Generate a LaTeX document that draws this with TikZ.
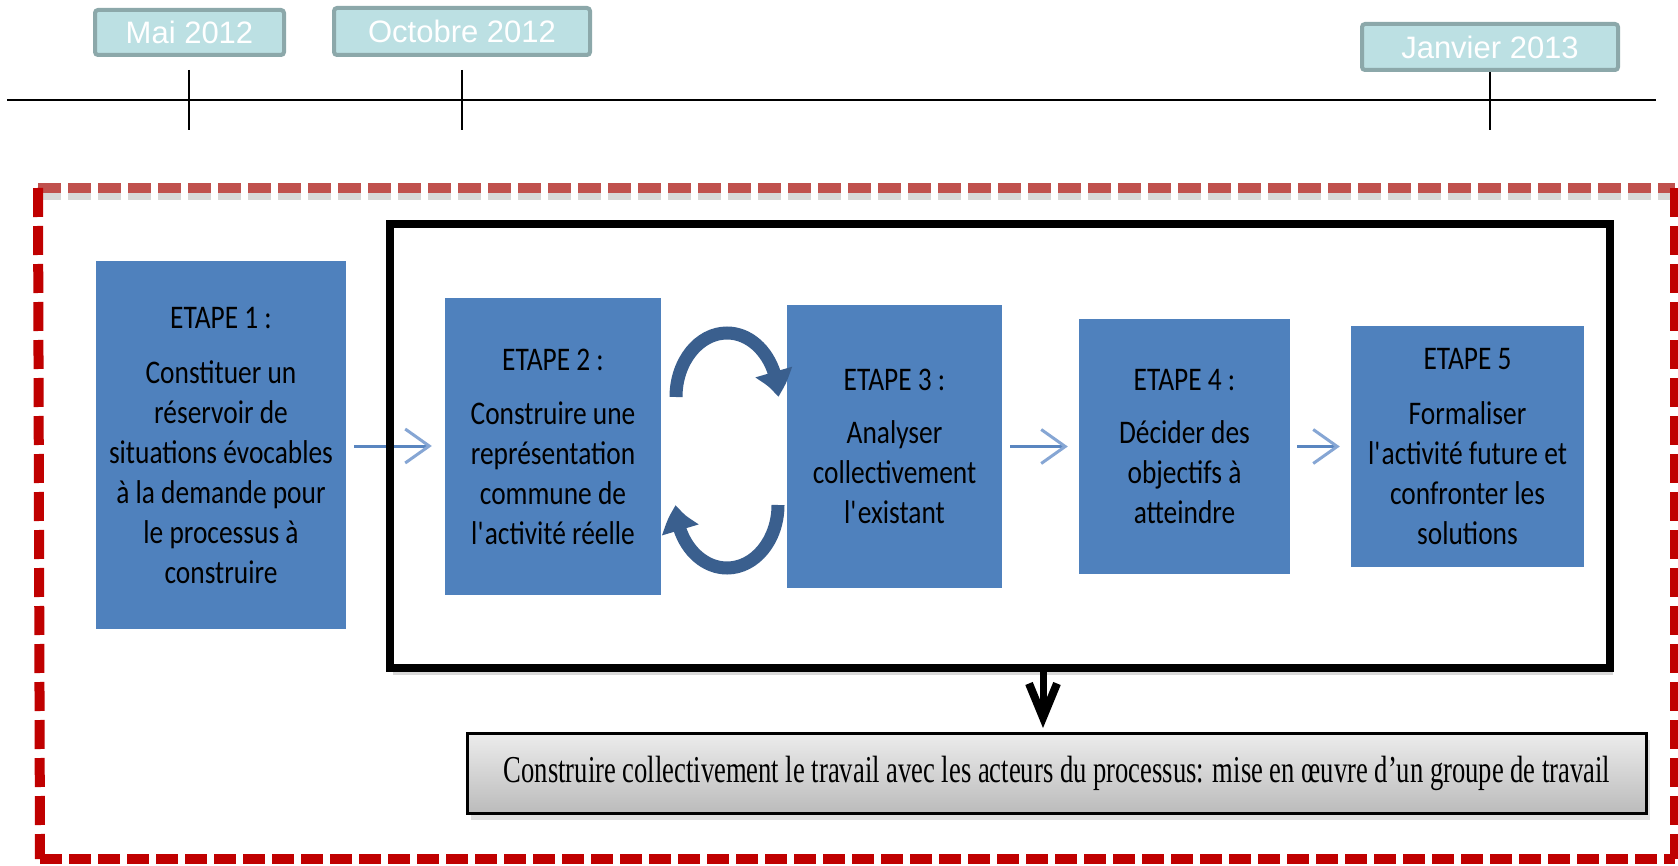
\documentclass[tikz,border=0pt]{standalone}
\usepackage{fontspec}
\setmainfont{Liberation Sans}
\newfontfamily\stepfont[FakeStretch=0.83]{Carlito}
\newfontfamily\serfont[FakeStretch=0.70]{Liberation Serif}
\usetikzlibrary{arrows.meta,bending,shadows}
\definecolor{stepblue}{HTML}{4F81BD}
\definecolor{datefill}{HTML}{BCE0E3}
\definecolor{dateborder}{HTML}{8CA8AA}
\definecolor{redframe}{HTML}{C00000}
\definecolor{redtop}{HTML}{C0504D}
\definecolor{arrowblue}{HTML}{5A86C0}
\definecolor{arrowlight}{HTML}{86A6D4}
\definecolor{circblue}{HTML}{3A5F8E}
\definecolor{graytop}{HTML}{ECECEC}
\definecolor{graybot}{HTML}{BBBBBB}
\tikzset{
  datebox/.style={draw=dateborder, fill=datefill, line width=4pt, rounded corners=3pt,
    text=white, font=\fontsize{31}{36}\selectfont, inner sep=0pt},
  stepbox/.style={fill=stepblue, inner sep=0pt, align=center,
    font=\stepfont\fontsize{33}{40}\selectfont, text=black},
  thinarrow/.style={line width=3pt, draw=arrowblue,
    -{Straight Barb[length=24pt,width=34pt,line width=3pt,color=arrowlight]}},
  circarrow/.style={line width=13pt, draw=circblue, -{Triangle[length=26pt,width=36pt,bend]}},
  tick/.style={line width=2pt, draw=black},
  redside/.style={line width=10pt, draw=redframe, dash pattern=on 29pt off 9pt},
  redbottom/.style={line width=10pt, draw=redframe, dash pattern=on 22pt off 7pt},
  redtopline/.style={line width=10pt, draw=redtop, dash pattern=on 23pt off 7pt},
  downarrow/.style={line width=7pt, draw=black, -{Straight Barb[length=34pt,width=28pt,line width=8pt]}},
  graybox/.style={draw=black, line width=3pt, top color=graytop, bottom color=graybot,
    inner sep=0pt, drop shadow={shadow xshift=3pt, shadow yshift=-6pt, opacity=0.25}}
}
\begin{document}
\begin{tikzpicture}[x=1pt,y=-1pt]
\useasboundingbox (0,0) rectangle (1678,866);
\fill[white] (0,0) rectangle (1678,866);

% timeline
\coordinate (tl0) at (7,100);
\coordinate (tl1) at (1656,100);
\draw[line width=2pt] (tl0) -- (tl1);
\coordinate (m1) at (189,70);  \coordinate (m2) at (189,130);
\coordinate (o1) at (462,70);  \coordinate (o2) at (462,130);
\coordinate (j1) at (1490,72); \coordinate (j2) at (1490,130);
\draw[tick] (m1) -- (m2);
\draw[tick] (o1) -- (o2);
\draw[tick] (j1) -- (j2);
\node[datebox, minimum width=189pt, minimum height=45pt] (dmai) at (189.5,32.5) {Mai 2012};
\node[datebox, minimum width=256pt, minimum height=47pt] (doct) at (462,31.5) {Octobre 2012};
\node[datebox, minimum width=256pt, minimum height=46pt] (djan) at (1490,47) {Janvier 2013};

% red dashed frame
\coordinate (fa) at (38,188);
\coordinate (fb) at (1675,188);
\coordinate (fc) at (1675,859);
\coordinate (fd) at (40,859);
\draw[redtopline, draw=gray, opacity=0.3, line width=8pt] ([yshift=-8pt]fa) -- ([yshift=-8pt]fb);
\draw[redtopline] (fa) -- (fb);
\draw[redside] (fa) -- (fd);
\draw[redside] (fb) -- (fc);
\draw[redbottom] (fd) -- (fc);

% black frame (fill + shadow)
\node[fill=white, minimum width=1220pt, minimum height=444pt, inner sep=0pt,
  drop shadow={shadow xshift=3pt, shadow yshift=-7pt, opacity=0.3}] (bb) at (1000,446) {};

% steps
\node[stepbox, minimum width=250pt, minimum height=368pt] (e1) at (221,445)
  {ETAPE 1 :\\[15pt]Constituer un\\réservoir de\\situations évocables\\à la demande pour\\le processus à\\construire};
\node[stepbox, minimum width=216pt, minimum height=297pt] (e2) at (553,446.5)
  {ETAPE 2 :\\[14pt]Construire une\\représentation\\commune de\\l\textquotesingle activité réelle};
\node[stepbox, minimum width=215pt, minimum height=283pt] (e3) at (894.5,446.5)
  {ETAPE 3 :\\[13pt]Analyser\\collectivement\\l\textquotesingle existant};
\node[stepbox, minimum width=211pt, minimum height=255pt] (e4) at (1184.5,446.5)
  {ETAPE 4 :\\[13pt]Décider des\\objectifs à\\atteindre};
\node[stepbox, minimum width=233pt, minimum height=241pt] (e5) at (1467.5,446.5)
  {ETAPE 5\\[15pt]Formaliser\\l\textquotesingle activité future et\\confronter les\\solutions};

% thin arrows
\draw[thinarrow] ([xshift=8pt,yshift=-1pt]e1.east) -- ([xshift=-13pt,yshift=0.5pt]e2.west);
\draw[thinarrow] ([xshift=8pt]e3.east) -- ([xshift=-11pt]e4.west);
\draw[thinarrow] ([xshift=7pt]e4.east) -- ([xshift=-11pt]e5.west);

% circular arrows between step 2 and step 3
\coordinate (ctop) at (676,397);
\coordinate (cbot) at (778,505);
\draw[circarrow] (ctop) arc[start angle=180, end angle=360, x radius=51, y radius=64];
\draw[circarrow] (cbot) arc[start angle=0, end angle=180, x radius=51, y radius=63];

% black frame border
\draw[line width=8pt] (bb.north west) rectangle (bb.south east);

% bottom box
\node[graybox, minimum width=1179pt, minimum height=80pt] (gb) at (1057,773.5)
  {\serfont\fontsize{38}{44}\selectfont Construire collectivement le travail avec les acteurs du processus: mise en œuvre d’un groupe de travail};

% down arrow
\draw[downarrow] ([xshift=43pt]bb.south) -- ([xshift=-14pt,yshift=4pt]gb.north);
\end{tikzpicture}
\end{document}
